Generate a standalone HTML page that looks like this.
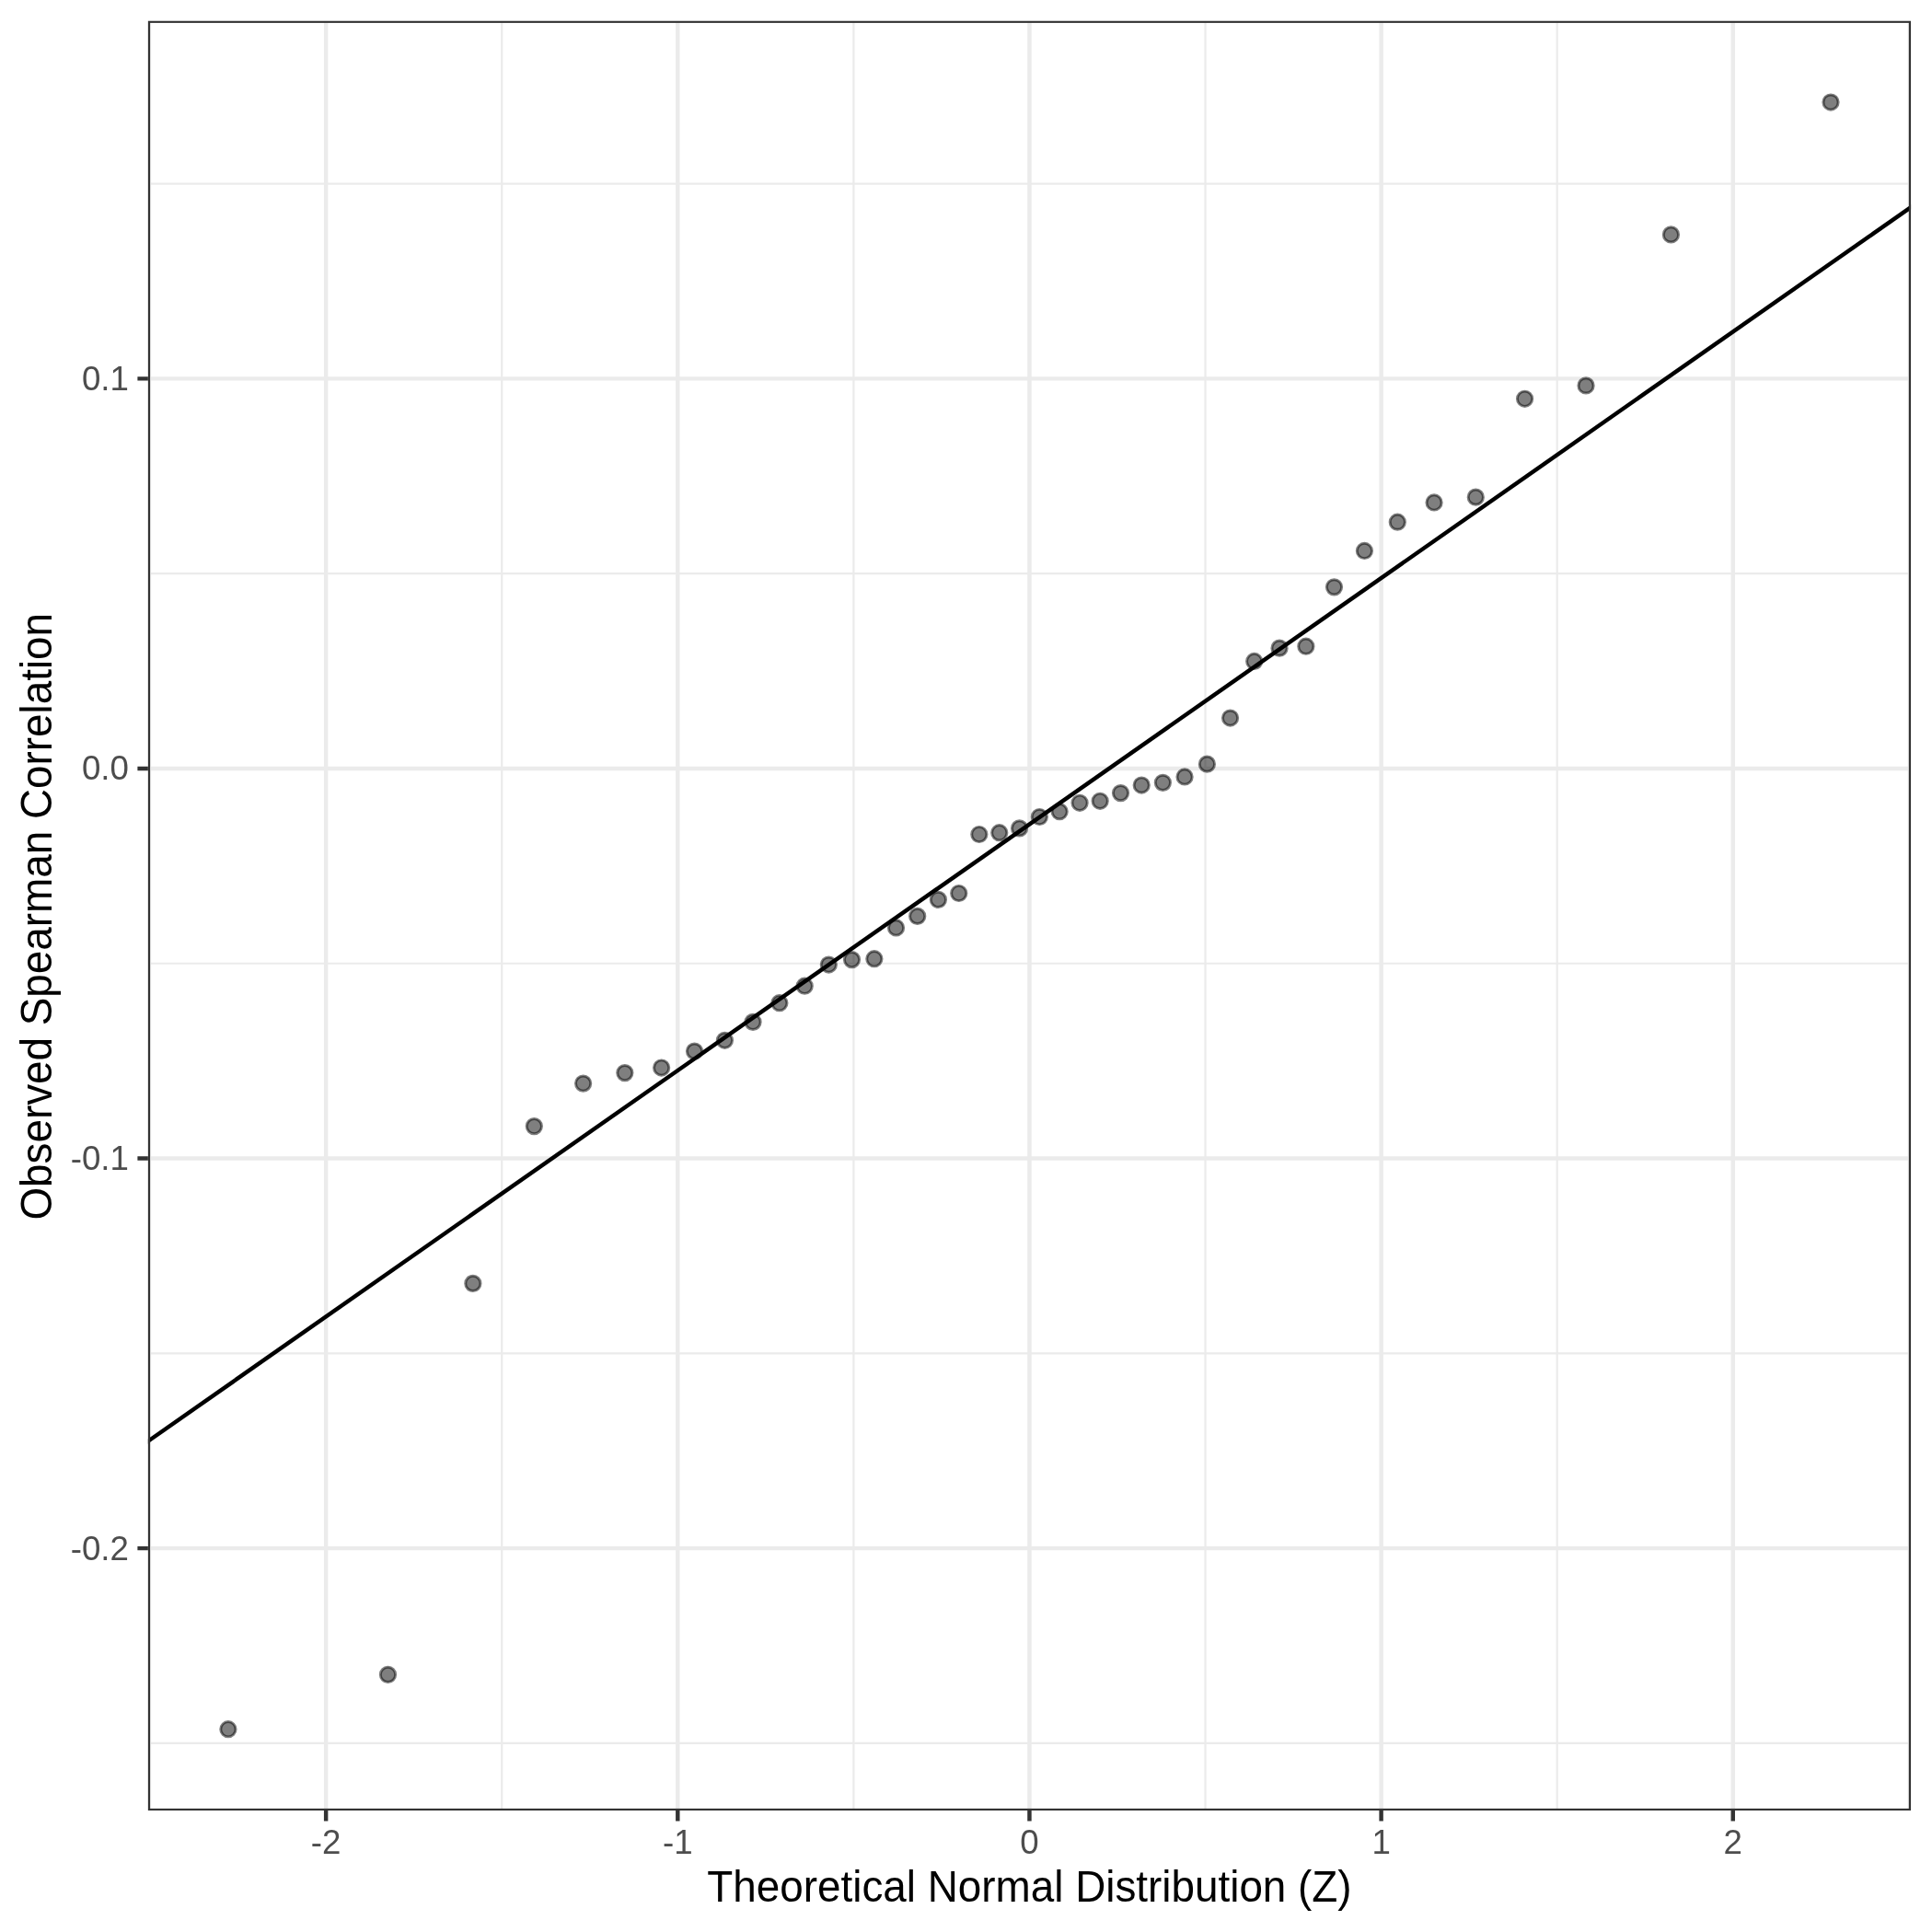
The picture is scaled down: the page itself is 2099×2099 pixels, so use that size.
<!DOCTYPE html>
<html><head><meta charset="utf-8"><style>
html,body{margin:0;padding:0;background:#fff;}
body{width:2099px;height:2099px;overflow:hidden;}
svg{display:block;will-change:transform;}
text{font-family:"Liberation Sans",sans-serif;}
</style></head><body>
<svg width="2099" height="2099" viewBox="0 0 2099 2099">
<defs><clipPath id="pc"><rect x="160.86" y="22.68" width="1915.20" height="1944.40"/></clipPath></defs>
<rect x="0" y="0" width="2099" height="2099" fill="#ffffff"/>
<g clip-path="url(#pc)">
<path d="M163.07 22.68V1967.08M545.22 22.68V1967.08M927.38 22.68V1967.08M1309.53 22.68V1967.08M1691.69 22.68V1967.08M2073.84 22.68V1967.08M160.86 199.58H2076.05M160.86 623.17H2076.05M160.86 1046.76H2076.05M160.86 1470.34H2076.05M160.86 1893.93H2076.05" stroke="#EBEBEB" stroke-width="2.22" fill="none"/>
<path d="M354.14 22.68V1967.08M736.30 22.68V1967.08M1118.45 22.68V1967.08M1500.61 22.68V1967.08M1882.76 22.68V1967.08M160.86 411.37H2076.05M160.86 834.96H2076.05M160.86 1258.55H2076.05M160.86 1682.14H2076.05" stroke="#EBEBEB" stroke-width="4.44" fill="none"/>
<g fill="#000" fill-opacity="0.5" stroke="#000" stroke-opacity="0.5" stroke-width="2.95">
<circle cx="247.91" cy="1878.70" r="8.15"/>
<circle cx="421.48" cy="1819.40" r="8.15"/>
<circle cx="513.86" cy="1394.40" r="8.15"/>
<circle cx="580.33" cy="1223.60" r="8.15"/>
<circle cx="633.61" cy="1177.10" r="8.15"/>
<circle cx="678.84" cy="1165.60" r="8.15"/>
<circle cx="718.63" cy="1160.00" r="8.15"/>
<circle cx="754.50" cy="1142.10" r="8.15"/>
<circle cx="787.42" cy="1130.30" r="8.15"/>
<circle cx="818.05" cy="1110.35" r="8.15"/>
<circle cx="846.86" cy="1089.70" r="8.15"/>
<circle cx="874.20" cy="1071.20" r="8.15"/>
<circle cx="900.35" cy="1048.05" r="8.15"/>
<circle cx="925.51" cy="1042.60" r="8.15"/>
<circle cx="949.86" cy="1041.70" r="8.15"/>
<circle cx="973.54" cy="1007.95" r="8.15"/>
<circle cx="996.69" cy="995.40" r="8.15"/>
<circle cx="1019.39" cy="977.40" r="8.15"/>
<circle cx="1041.74" cy="970.50" r="8.15"/>
<circle cx="1063.84" cy="906.50" r="8.15"/>
<circle cx="1085.76" cy="904.70" r="8.15"/>
<circle cx="1107.57" cy="899.90" r="8.15"/>
<circle cx="1129.34" cy="887.50" r="8.15"/>
<circle cx="1151.15" cy="881.70" r="8.15"/>
<circle cx="1173.07" cy="872.30" r="8.15"/>
<circle cx="1195.17" cy="870.28" r="8.15"/>
<circle cx="1217.52" cy="861.58" r="8.15"/>
<circle cx="1240.22" cy="853.04" r="8.15"/>
<circle cx="1263.37" cy="850.33" r="8.15"/>
<circle cx="1287.05" cy="843.96" r="8.15"/>
<circle cx="1311.40" cy="830.14" r="8.15"/>
<circle cx="1336.56" cy="780.06" r="8.15"/>
<circle cx="1362.71" cy="718.45" r="8.15"/>
<circle cx="1390.05" cy="704.16" r="8.15"/>
<circle cx="1418.86" cy="702.24" r="8.15"/>
<circle cx="1449.49" cy="637.84" r="8.15"/>
<circle cx="1482.41" cy="598.48" r="8.15"/>
<circle cx="1518.28" cy="567.19" r="8.15"/>
<circle cx="1558.07" cy="545.99" r="8.15"/>
<circle cx="1603.30" cy="540.14" r="8.15"/>
<circle cx="1656.58" cy="433.26" r="8.15"/>
<circle cx="1723.05" cy="418.91" r="8.15"/>
<circle cx="1815.43" cy="254.90" r="8.15"/>
<circle cx="1989.00" cy="111.06" r="8.15"/>
</g>
<path d="M100 1608.38L2150 173.42" stroke="#000" stroke-width="4.44" fill="none"/>
<rect x="160.86" y="22.68" width="1915.20" height="1944.40" fill="none" stroke="#333333" stroke-width="4.44"/>
</g>
<path d="M354.14 1967.08V1978.54M736.30 1967.08V1978.54M1118.45 1967.08V1978.54M1500.61 1967.08V1978.54M1882.76 1967.08V1978.54M149.40 411.37H160.86M149.40 834.96H160.86M149.40 1258.55H160.86M149.40 1682.14H160.86" stroke="#333333" stroke-width="4.44" fill="none"/>
<text transform="translate(354.14,2014.00) scale(1,1.02)" text-anchor="middle" font-size="36.67" fill="#4D4D4D">-2</text>
<text transform="translate(736.30,2014.00) scale(1,1.02)" text-anchor="middle" font-size="36.67" fill="#4D4D4D">-1</text>
<text transform="translate(1118.45,2014.00) scale(1,1.02)" text-anchor="middle" font-size="36.67" fill="#4D4D4D">0</text>
<text transform="translate(1500.61,2014.00) scale(1,1.02)" text-anchor="middle" font-size="36.67" fill="#4D4D4D">1</text>
<text transform="translate(1882.76,2014.00) scale(1,1.02)" text-anchor="middle" font-size="36.67" fill="#4D4D4D">2</text>
<text transform="translate(139.9,423.82) scale(1,1.02)" text-anchor="end" font-size="36.67" fill="#4D4D4D">0.1</text>
<text transform="translate(139.9,847.41) scale(1,1.02)" text-anchor="end" font-size="36.67" fill="#4D4D4D">0.0</text>
<text transform="translate(139.9,1271.00) scale(1,1.02)" text-anchor="end" font-size="36.67" fill="#4D4D4D">-0.1</text>
<text transform="translate(139.9,1694.59) scale(1,1.02)" text-anchor="end" font-size="36.67" fill="#4D4D4D">-0.2</text>
<text transform="translate(1118.45,2066.1) scale(1,1.04)" text-anchor="middle" font-size="45.83" fill="#000">Theoretical Normal Distribution (Z)</text>
<text transform="translate(55.8,995.78) rotate(-90) scale(1,1.04)" text-anchor="middle" font-size="45.83" fill="#000">Observed Spearman Correlation</text>
</svg></body></html>
